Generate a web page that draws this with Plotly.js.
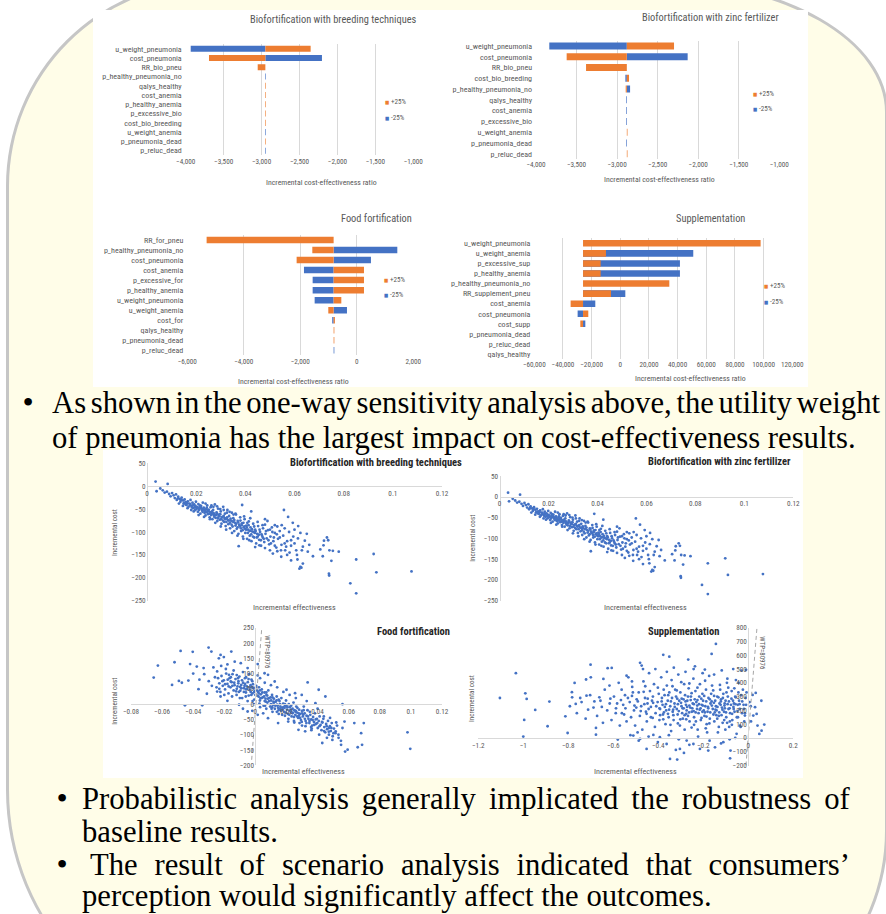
<!DOCTYPE html>
<html><head><meta charset="utf-8">
<script src="https://cdn.plot.ly/plotly-3.0.1.min.js"></script>
<style>
html,body{margin:0;padding:0;width:886px;height:914px;overflow:hidden;background:#fff;}
#frame{position:absolute;left:6px;top:-20px;width:882px;height:1059px;box-sizing:border-box;border:3px solid #c6c6c6;background:#fffde8;
border-top-left-radius:206px;border-top-right-radius:228px 132px;border-bottom-right-radius:208px;border-bottom-left-radius:249px;}
.panel{position:absolute;background:#fff;}
#chart{position:absolute;left:0;top:0;width:886px;height:914px;}
.tl{position:absolute;font-size:32px;line-height:30px;white-space:nowrap;transform-origin:0 0;color:#000;}
</style></head>
<body>
<div id="frame"></div>
<div class="panel" style="left:93px;top:10px;width:715px;height:377px;"></div>
<div class="panel" style="left:103px;top:450px;width:700px;height:328px;"></div>
<div id="chart"></div>
<script>
// ---------------- DATA ----------------
// Tornado: Biofortification with breeding techniques
const bfbCats = ["u_weight_pneumonia","cost_pneumonia","RR_bio_pneu","p_healthy_pneumonia_no","qalys_healthy","cost_anemia","p_healthy_anemia","p_excessive_bio","cost_bio_breeding","u_weight_anemia","p_pneumonia_dead","p_reluc_dead"];
const bfbBase = -2950;
const bfbPlus  = [-2353,-3693,-3051,-2950,-2942,-2942,-2942,-2942,-2942,-2950,-2942,-2950];
const bfbMinus = [-3934,-2204,-2950,-2942,-2950,-2950,-2950,-2950,-2950,-2942,-2950,-2942];
// Tornado: Biofortification with zinc fertilizer
const bfzCats = ["u_weight_pneumonia","cost_pneumonia","RR_bio_pneu","cost_bio_breeding","p_healthy_pneumonia_no","qalys_healthy","cost_anemia","p_excessive_bio","u_weight_anemia","p_pneumonia_dead","p_reluc_dead"];
const bfzBase = -2880;
const bfzPlus  = [-2298,-3622,-3383,-2853,-2894,-2880,-2880,-2880,-2872,-2880,-2872];
const bfzMinus = [-3836,-2130,-2880,-2898,-2840,-2888,-2888,-2888,-2880,-2888,-2880];
// Tornado: Food fortification
const ffCats = ["RR_for_pneu","p_healthy_pneumonia_no","cost_pneumonia","cost_anemia","p_excessive_for","p_healthy_anemia","u_weight_pneumonia","u_weight_anemia","cost_for","qalys_healthy","p_pneumonia_dead","p_reluc_dead"];
const ffBase = -820;
const ffPlus  = [-5316,-1575,-2130,254,254,254,-548,-1009,-775,-795,-795,-820];
const ffMinus = [-820,1434,501,-1870,-1563,-1563,-1492,-348,-870,-820,-820,-795];
// Tornado: Supplementation
const spCats = ["u_weight_pneumonia","u_weight_anemia","p_excessive_sup","p_healthy_anemia","p_healthy_pneumonia_no","RR_supplement_pneu","cost_anemia","cost_pneumonia","cost_supp","p_pneumonia_dead","p_reluc_dead","qalys_healthy"];
const spBase = -26000;
const spPlus  = [97900,-10000,-13700,-13700,34200,-6500,-34650,-22330,-27900,-26000,-26000,-26000];
const spMinus = [-26000,50900,41600,41600,-26000,3500,-17440,-29770,-24400,-26000,-26000,-26000];
const seriesNames = ["+25%","-25%"];

// PSA scatter: biofortification (breeding and zinc fertilizer clouds look identical)
const bioPoints = [
[0.0035,10],[0.0084,5],[0.0039,-11],[0.0054,-5],[0.0064,-9],[0.0072,-14],[0.0081,-12],[0.0090,-17],[0.0096,-22],[0.0102,-15],[0.0108,-20],[0.0113,-26],[0.0118,-18],[0.0121,-30],[0.0127,-23],[0.0133,-28],[0.0136,-34],[0.0141,-25],[0.0146,-31],[0.0149,-38],[0.0153,-29],[0.0158,-35],[0.0161,-41],[0.0166,-33],[0.0169,-45],[0.0172,-38],[0.0177,-30],[0.0181,-43],[0.0185,-36],[0.0188,-48],[0.0192,-40],[0.0196,-52],[0.0199,-34],[0.0203,-45],[0.0207,-56],[0.0209,-39],[0.0213,-49],[0.0217,-60],[0.0220,-43],[0.0224,-53],[0.0227,-36],[0.0231,-47],[0.0234,-58],[0.0238,-64],[0.0241,-50],[0.0245,-42],[0.0248,-61],[0.0252,-55],[0.0255,-68],[0.0259,-46],[0.0262,-58],[0.0266,-72],[0.0269,-52],[0.0272,-64],[0.0276,-40],[0.0279,-69],[0.0283,-57],[0.0286,-76],[0.0289,-49],[0.0293,-62],[0.0296,-73],[0.0300,-55],[0.0303,-82],[0.0307,-67],[0.0310,-45],[0.0314,-78],[0.0317,-60],[0.0320,-87],[0.0324,-70],[0.0327,-52],[0.0331,-83],[0.0334,-65],[0.0338,-92],[0.0341,-75],[0.0345,-58],[0.0348,-88],[0.0351,-70],[0.0355,-98],[0.0358,-80],[0.0362,-62],[0.0365,-93],[0.0369,-76],[0.0372,-104],[0.0376,-86],[0.0379,-68],[0.0383,-98],[0.0386,-81],[0.0390,-110],[0.0393,-90],[0.0397,-72],[0.0400,-102],[0.0404,-86],[0.0407,-115],[0.0411,-95],[0.0414,-77],[0.0418,-108],[0.0421,-90],[0.0425,-120],[0.0428,-99],[0.0432,-82],[0.0436,-112],[0.0440,-95],[0.0444,-125],[0.0448,-104],[0.0452,-87],[0.0456,-117],[0.0460,-100],[0.0464,-130],[0.0468,-108],[0.0472,-92],[0.0477,-122],[0.0482,-104],[0.0487,-114],[0.0492,-96],[0.0497,-127],[0.0502,-110],[0.0508,-90],[0.0514,-120],[0.0520,-102],[0.0526,-134],[0.0533,-115],[0.0540,-98],[0.0547,-128],[0.0554,-108],[0.0562,-140],[0.0570,-120],[0.0578,-100],[0.0586,-130],[0.0595,-110],
[0.0157,-40],[0.0174,-42],[0.0183,-46],[0.0194,-46],[0.0201,-50],[0.0211,-52],[0.0219,-47],[0.0226,-56],[0.0233,-52],[0.0240,-57],[0.0247,-53],[0.0254,-60],[0.0261,-63],[0.0268,-60],[0.0274,-67],[0.0281,-63],[0.0288,-70],[0.0295,-66],[0.0302,-72],[0.0309,-75],[0.0316,-70],[0.0323,-78],[0.0330,-74],[0.0337,-80],[0.0344,-84],[0.0352,-78],[0.0360,-86],[0.0368,-90],[0.0375,-84],[0.0382,-92],[0.0389,-96],[0.0396,-88],[0.0403,-95],[0.0410,-102],[0.0417,-98],[0.0424,-105],[0.0431,-110],[0.0439,-102],[0.0447,-112],[0.0455,-106],[0.0463,-118],[0.0471,-112],
[0.0190,-55],[0.0215,-42],[0.0243,-47],[0.0270,-45],[0.0298,-50],[0.0325,-58],[0.0352,-62],[0.0380,-75],[0.0408,-80],[0.0436,-88],[0.0470,-85],[0.0500,-95],[0.0520,-85],
[0.0125,-27],[0.0139,-30],[0.0151,-36],[0.0163,-37],[0.0176,-39],[0.0186,-42],[0.0197,-43],[0.0205,-47],[0.0214,-46],[0.0222,-50],[0.0229,-49],[0.0236,-54],[0.0244,-56],[0.0251,-51],[0.0258,-57],[0.0264,-55],[0.0271,-59],[0.0278,-62],[0.0285,-60],[0.0291,-65],[0.0298,-61],[0.0305,-68],[0.0312,-65],[0.0319,-72],[0.0326,-68],[0.0333,-75],[0.0340,-71],[0.0347,-77],[0.0355,-74],[0.0363,-82],[0.0371,-79],[0.0378,-88],[0.0385,-85],[0.0392,-80],[0.0399,-93],[0.0406,-90],[0.0413,-85],[0.0420,-97],[0.0427,-94],[0.0434,-100],[0.0442,-98],[0.0450,-110],[0.0458,-95],[0.0466,-105],[0.0475,-115],[0.0484,-98],[0.0494,-118],[0.0504,-125],[0.0516,-112],[0.0528,-105],[0.0210,-63],[0.0232,-67],[0.0256,-72],[0.0278,-80],[0.0300,-88],[0.0322,-95],[0.0346,-102],[0.0368,-108],[0.0392,-115],[0.0416,-118],[0.0180,-52],[0.0165,-48],[0.0146,-43],[0.0130,-38],[0.0238,-38],[0.0262,-42],[0.0285,-44],[0.0312,-52],[0.0336,-56],[0.0360,-60],[0.0395,-66],[0.0420,-70],[0.0450,-78],[0.0480,-84],[0.0510,-100],[0.0540,-112],[0.0560,-125],[0.0580,-145],[0.0600,-125],[0.0630,-140],[0.0660,-128],[0.0610,-150],[0.0570,-150],[0.0545,-140],[0.0520,-130],
[0.0424,-55],[0.0387,-41],[0.0480,-72],[0.0557,-52],[0.0574,-67],[0.0548,-85],[0.0560,-92],[0.0593,-80],[0.0615,-87],[0.0624,-102],[0.0642,-119],[0.0720,-119],[0.0732,-112],[0.0737,-118],[0.0718,-129],[0.0705,-138],[0.0742,-140],[0.0756,-141],[0.0780,-143],[0.0715,-153],[0.0750,-163],[0.0851,-160],[0.0922,-148],[0.0740,-191],[0.0741,-195],[0.0933,-188],[0.1076,-186],[0.0827,-212],[0.0851,-234],[0.0620,-180],[0.0624,-176],[0.0586,-162],[0.0634,-169],[0.0654,-143],[0.0675,-153],[0.0607,-140],[0.0566,-132],[0.0546,-154],[0.0512,-147],[0.0480,-135],[0.0457,-129],[0.0373,-131],[0.0586,-118],[0.0614,-114],[0.0634,-132],[0.0628,-178],[0.0612,-160],[0.0530,-142],[0.0500,-140],[0.0440,-133],[0.0490,-76],[0.0530,-88],[0.0600,-95],[0.0650,-104]
];
// PSA scatter: food fortification
const foodPoints = [
[-0.0250,55],[-0.0240,85],[-0.0232,68],[-0.0225,40],[-0.0218,92],[-0.0210,60],[-0.0203,78],[-0.0195,48],[-0.0188,100],[-0.0180,66],[-0.0173,35],[-0.0166,85],[-0.0160,55],[-0.0153,72],[-0.0147,98],[-0.0140,45],[-0.0134,62],[-0.0128,82],[-0.0121,30],[-0.0115,58],[-0.0109,75],[-0.0103,90],[-0.0097,44],[-0.0091,63],[-0.0085,20],[-0.0079,70],[-0.0073,52],[-0.0067,85],[-0.0061,38],[-0.0055,58],[-0.0049,72],[-0.0043,28],[-0.0037,46],[-0.0031,62],[-0.0025,80],[-0.0019,35],[-0.0013,52],[-0.0007,15],[-0.0001,44],[0.0005,60],[0.0011,28],[0.0017,40],[0.0023,55],[0.0029,12],[0.0035,32],[0.0041,48],[0.0047,22],[0.0053,-5],[0.0059,38],[0.0065,18],[0.0071,30],[0.0077,5],[0.0083,45],[0.0089,20],[0.0095,-8],[0.0101,12],[0.0107,30],[0.0113,-2],[0.0119,18],[0.0125,-15],[0.0131,8],[0.0137,25],[0.0143,-5],[0.0149,-20],[0.0155,10],[0.0161,-8],[0.0167,20],[0.0173,-12],[0.0179,2],[0.0185,-25],[0.0191,-5],[0.0197,12],[0.0203,-18],[0.0209,-32],[0.0215,0],[0.0221,-10],[0.0227,-25],[0.0233,-40],[0.0239,-15],[0.0245,5],[0.0251,-20],[0.0257,-35],[0.0263,-8],[0.0269,-28],[0.0275,-45],[0.0281,-18],[0.0287,-32],[0.0293,-52],[0.0299,-22],[0.0305,-40],[0.0311,-8],[0.0317,-30],[0.0323,-55],[0.0329,-38],[0.0335,-20],[0.0341,-48],[0.0347,-62],[0.0353,-35],[0.0359,-50],[0.0365,-70],[0.0371,-42],[0.0377,-58],[0.0383,-30],[0.0389,-65],[0.0395,-48],[0.0401,-78],[0.0407,-55],[0.0413,-40],[0.0419,-68],[0.0425,-85],[0.0431,-60],[0.0437,-48],[0.0443,-75],[0.0449,-92],[0.0455,-65],[0.0461,-82],[0.0467,-55],[0.0473,-100],[0.0479,-72],[0.0485,-88],[0.0491,-62],[0.0497,-105],[0.0505,-80],[0.0515,-95],[0.0525,-70],[0.0535,-110],
[-0.0120,50],[-0.0090,52],[-0.0060,48],[-0.0030,40],[0.0000,30],[0.0020,25],[0.0040,20],[0.0060,10],[0.0080,18],[0.0100,0],[0.0120,5],[0.0140,-2],[0.0160,-15],[0.0180,-10],[0.0200,-5],[0.0220,-22],[0.0240,-28],[0.0260,-22],[0.0280,-38],[0.0300,-30],[-0.0110,68],[-0.0070,60],[-0.0020,55],[0.0030,45],[0.0070,38],[0.0110,22],[0.0150,15],[0.0190,0],[0.0230,-5],[0.0270,-12],[0.0310,-20],[0.0350,-25],[0.0190,-38],[0.0150,-32],[0.0110,-25],[0.0070,-15],[0.0030,-10],[-0.0010,0],[-0.0050,10],[-0.0100,20],[-0.0150,25],[-0.0200,30],
[-0.0195,65],[-0.0172,58],[-0.0158,88],[-0.0136,70],[-0.0124,42],[-0.0112,85],[-0.0098,56],[-0.0086,78],[-0.0074,40],[-0.0066,66],[-0.0052,50],[-0.0044,82],[-0.0034,55],[-0.0026,30],[-0.0016,65],[-0.0008,40],[0.0002,55],[0.0012,45],[0.0022,35],[0.0032,20],[0.0044,38],[0.0056,25],[0.0068,8],[0.0076,28],[0.0088,10],[0.0098,22],[0.0108,-10],[0.0116,8],[0.0128,-5],[0.0136,12],[0.0146,-12],[0.0158,0],[0.0166,-22],[0.0176,-18],[0.0188,-12],[0.0196,-28],[0.0206,-10],[0.0218,-35],[0.0228,-18],[0.0238,-30],[0.0248,-42],[0.0258,-25],[0.0268,-40],[0.0278,-30],[0.0288,-45],[0.0298,-58],[0.0308,-35],[0.0318,-48],[0.0328,-62],[0.0338,-40],[0.0348,-55],[0.0358,-75],[0.0368,-52],[0.0378,-68],[0.0388,-50],[0.0398,-62],[0.0412,-72],[0.0428,-58],[0.0442,-88],[0.0458,-72],[0.0472,-90],[0.0488,-78],[0.0502,-95],[-0.0232,50],[-0.0212,75],[-0.0178,80],[-0.0148,60],[-0.0106,40],[-0.0062,25],[-0.0018,10],[0.0026,2],[0.0062,-5],[0.0104,-15],[0.0138,-25],[0.0172,-35],[0.0212,-48],[0.0248,-55],[0.0284,-62],[0.0322,-72],[0.0362,-80],
[-0.0654,87],[-0.0627,126],[-0.0520,137],[-0.0536,63],[-0.0481,174],[-0.0492,76],[-0.0473,70],[-0.0431,77],[-0.0403,171],[-0.0420,131],[-0.0377,123],[-0.0366,49],[-0.0333,118],[-0.0329,98],[-0.0312,34],[-0.0301,185],[-0.0283,172],[-0.0342,-4],[-0.0453,-4],[-0.0246,107],[-0.0235,150],[-0.0224,161],[-0.0203,154],[-0.0155,172],[-0.0133,139],[-0.0170,96],[-0.0159,74],[-0.0094,134],[-0.0050,118],[0.0015,131],[0.0336,71],[0.0407,47],[0.0450,25],[0.0560,0],[0.0573,-57],[0.0636,-62],[0.0697,-62],[0.0516,-89],[0.0680,-95],[0.0978,-92],[0.0996,-146],[0.0577,-155],[0.0593,-149],[0.0658,-141],[0.0686,-133],[0.0551,-133],[0.0495,-117],[0.0430,-127],[0.0534,-100],[0.0560,-78],[0.0473,-78],[0.0320,-89],[0.0277,-84],[0.0211,-57],[0.0146,-62],[0.0081,-46],[0.0015,-35],[-0.0050,-24],[-0.0105,-2],[-0.0180,11],[-0.0224,25],[-0.0246,41],[0.0386,3],[0.0298,30],[0.0255,36],[0.0200,47],[0.0124,74],[0.0081,96],[0.0059,101],[0.0015,94],
[-0.0280,60],[-0.0260,88],[-0.0300,75],[-0.0270,120],[-0.0220,125],[-0.0190,115],[-0.0140,110],[-0.0120,95],[-0.0080,105],[-0.0060,88],[-0.0040,98],[-0.0020,75],[0.0030,85],[0.0060,70],[0.0100,62],[0.0140,55],[0.0180,40],[0.0220,30],[0.0260,20],[0.0330,10],[0.0400,-15],[0.0440,-40],[0.0480,-45],[0.0520,-60],[0.0550,-120],[0.0460,-110],[0.0410,-100],[0.0360,-85],[0.0300,-70],[0.0250,-60],[-0.0360,80],[-0.0400,100],[-0.0180,130],[-0.0080,-15],[-0.0020,-22],[0.0050,-30]
];
// PSA scatter: supplementation
const suppPoints = [
[-1.104,290],[-1.033,470],[-0.991,324],[-0.985,283],[-0.996,131],[-1.000,10],[-0.947,203],[-0.884,264],[-0.892,85],[-0.813,157],[-0.803,36],[-0.772,399],[-0.784,332],[-0.767,247],[-0.783,295],[-0.721,424],[-0.701,532],[-0.700,440],[-0.719,307],[-0.677,24],[-0.677,73],[-0.662,295],[-0.644,428],[-0.625,506],[-0.607,508],[-0.580,-12],[-0.541,452],[-0.481,545],[-0.474,525],[-0.378,603],[-0.351,590],[-0.348,-152],[-0.316,-157],[-0.322,-87],[-0.286,-109],[-0.267,569],[-0.237,520],[-0.193,496],[-0.163,610],[-0.144,682],[-0.081,-148],[-0.079,-92],[-0.067,500],[-0.030,489],[-0.010,494],[0.030,223],[0.037,174],[0.071,97],[0.059,53],[0.049,29],[0.033,327],[0.019,312],[0.022,162],[-0.010,240],[-0.015,162],[-0.037,89],[-0.058,0],[-0.111,-31],[-0.148,-68],[-0.178,-92],[-0.215,-80],[-0.244,-44],[-0.274,-19],[-0.304,-80],[-0.363,-44],[-0.393,5],[-0.422,22],[-0.452,-80],[-0.481,-7],[-0.511,17],
[-0.583,250],[-0.562,180],[-0.548,310],[-0.541,120],[-0.527,260],[-0.516,370],[-0.508,200],[-0.503,90],[-0.496,280],[-0.487,330],[-0.482,160],[-0.476,230],[-0.471,60],[-0.466,410],[-0.459,290],[-0.455,190],[-0.448,250],[-0.451,120],[-0.437,340],[-0.443,210],[-0.428,270],[-0.433,150],[-0.419,390],[-0.424,300],[-0.415,80],[-0.409,230],[-0.412,180],[-0.398,320],[-0.403,260],[-0.395,130],[-0.387,440],[-0.392,210],[-0.384,290],[-0.379,170],[-0.376,350],[-0.381,240],[-0.368,100],[-0.372,310],[-0.365,200],[-0.358,270],[-0.362,380],[-0.354,150],[-0.347,230],[-0.351,330],[-0.343,50],[-0.339,290],[-0.336,190],[-0.341,420],[-0.328,250],[-0.332,130],[-0.325,350],[-0.318,210],[-0.321,300],[-0.314,170],[-0.307,270],[-0.311,460],[-0.304,90],[-0.297,230],[-0.302,330],[-0.294,180],[-0.288,280],[-0.291,140],[-0.285,390],[-0.277,240],[-0.281,310],[-0.274,200],[-0.268,160],[-0.271,270],[-0.265,360],[-0.258,220],[-0.261,120],[-0.255,300],[-0.247,250],[-0.251,190],[-0.244,430],[-0.238,280],[-0.241,150],[-0.235,340],[-0.228,210],[-0.231,260],[-0.225,60],[-0.218,300],[-0.221,180],[-0.215,390],[-0.207,240],[-0.211,130],[-0.204,320],[-0.198,200],[-0.201,270],[-0.195,160],[-0.188,350],[-0.191,230],[-0.185,100],[-0.177,290],[-0.181,190],[-0.174,450],[-0.168,250],[-0.171,140],[-0.165,320],[-0.158,210],[-0.161,380],[-0.155,170],[-0.147,270],[-0.151,120],[-0.144,230],[-0.138,300],[-0.141,200],[-0.135,40],[-0.128,250],[-0.131,160],[-0.125,350],[-0.117,220],[-0.121,280],[-0.114,110],[-0.108,190],[-0.111,320],[-0.105,250],[-0.098,150],[-0.101,270],[-0.095,400],[-0.088,210],[-0.091,300],[-0.085,80],[-0.077,240],[-0.081,180],[-0.074,340],[-0.068,270],[-0.071,130],[-0.065,210],[-0.058,300],[-0.061,190],[-0.055,420],[-0.047,240],[-0.051,150],[-0.044,330],[-0.038,210],[-0.041,270],[-0.028,180],[-0.032,310],[-0.021,240],[-0.018,120],
[-0.392,165],[-0.371,225],[-0.356,310],[-0.334,205],[-0.313,245],[-0.296,285],[-0.276,175],[-0.262,235],[-0.243,195],[-0.226,275],[-0.212,215],[-0.196,305],[-0.179,225],[-0.163,265],[-0.149,185],[-0.133,295],[-0.119,165],[-0.104,215],[-0.086,265],[-0.072,175],[-0.357,175],[-0.318,345],[-0.287,215],[-0.252,325],[-0.219,245],[-0.186,155],[-0.152,305],[-0.123,240],[-0.097,330],[-0.064,250],[-0.302,135],[-0.268,300],[-0.233,120],[-0.204,190],[-0.171,280],[-0.138,140],[-0.113,290],[-0.082,120],[-0.423,255],[-0.452,175],[-0.465,335],[-0.498,220],[-0.521,150],[-0.535,290],
[-0.395,215],[-0.385,265],[-0.375,185],[-0.366,245],[-0.352,205],[-0.344,265],[-0.333,165],[-0.327,225],[-0.316,285],[-0.309,195],[-0.299,255],[-0.292,215],[-0.283,165],[-0.279,265],[-0.272,225],[-0.263,185],[-0.256,275],[-0.249,215],[-0.242,245],[-0.234,185],[-0.227,235],[-0.216,205],[-0.209,285],[-0.202,235],[-0.193,185],[-0.187,265],[-0.178,215],[-0.169,185],[-0.162,235],[-0.153,255],[-0.146,205],[-0.137,225],[-0.129,185],[-0.122,265],[-0.115,205],[-0.106,235],[-0.099,185],[-0.092,245],[-0.083,215],[-0.075,285],[-0.066,225],[-0.057,245],[-0.048,195],[-0.039,245],[-0.027,265],[-0.313,105],[-0.276,135],[-0.241,95],[-0.208,145],[-0.173,105],[-0.142,165],[-0.107,130],[-0.073,95],[-0.337,375],[-0.298,405],[-0.262,395],[-0.226,365],[-0.192,415],[-0.156,345],[-0.126,385],[-0.089,365],[-0.056,295],[-0.433,225],[-0.447,285],[-0.462,245],[-0.478,195],[-0.491,265],[-0.506,235],[-0.517,305],[-0.546,215],[-0.566,275],[-0.588,215],[-0.613,285],[-0.651,225],[-0.684,265],[-0.712,205],[-0.747,290],[-0.425,145],[-0.378,135],[-0.346,95],[-0.252,75],[-0.189,70],[-0.131,80],[-0.094,110],[-0.046,150],[-0.019,210],[-0.008,330],[0.011,230],[-0.402,365],[-0.458,375],[-0.517,410],[-0.563,350],[-0.617,380],
[-0.793,230],[-0.762,180],[-0.741,260],[-0.723,140],[-0.703,310],[-0.688,220],[-0.672,160],[-0.657,270],[-0.646,110],[-0.638,350],[-0.627,200],[-0.616,250],[-0.608,130],[-0.597,300],[-0.589,180],[-0.576,400],[-0.571,90],[-0.556,240],[-0.552,170],[-0.533,440],[-0.524,20],[-0.513,330],[-0.492,40],[-0.468,500],[-0.441,470],[-0.413,500],[-0.362,480],[-0.331,510],[-0.279,480],[-0.243,500],[-0.203,470],[-0.152,460],[-0.118,490],[-0.093,430],[-0.062,360],[-0.043,400],[-0.024,350],[-0.012,290],[-0.034,80],[-0.052,30],[-0.083,-10],[-0.121,-40],[-0.172,-20],[-0.223,10],[-0.262,-50],[-0.309,-10],[-0.353,20],[-0.402,-30],[-0.443,10],[-0.487,-20],[-0.283,60],[-0.183,40],[-0.102,60],[-0.015,180],[0.006,260],[0.012,120],[0.041,90],[0.058,270]
];
// WTP threshold lines
const wtpLabel = "WTP=80976";
const foodWtpEff = [-0.0024, 0.0041], foodWtpCost = [-182, 250];
const suppWtpEff = [-0.0105, 0.0385], suppWtpCost = [-200, 800];

// ---------------- FONTS ----------------
const SANS = '"Roboto Condensed", "DejaVu Sans Condensed", sans-serif';
const SERIF = '"Liberation Serif", "Times New Roman", serif';
const meas = document.createElement('span');
meas.style.cssText = 'position:absolute;left:0;top:0;visibility:hidden;white-space:nowrap;font-size:100px;';
document.body.appendChild(meas);
function fit(str, target, bold) {
  meas.style.fontFamily = SANS; meas.style.fontWeight = bold ? 'bold' : 'normal'; meas.textContent = str;
  return Math.round(100 * target / meas.getBoundingClientRect().width * 10) / 10;
}
const FS = {
  cat: fit('p_healthy_pneumonia_no', 79),
  tick: fit('-3,500', 17.5),
  ttitle: fit('Biofortification with breeding techniques', 166),
  atitle: fit('Incremental cost-effectiveness ratio', 110),
  leg: fit('+25%', 15),
  stitle: fit('Biofortification with breeding techniques', 172, true),
  eff: fit('Incremental effectiveness', 83),
  cost: fit('Incremental cost', 47),
  wtp: fit('WTP=80976', 33),
  stick: fit('-100', 12.5)
};
meas.remove();

// ---------------- LAYOUT HELPERS ----------------
const W = 886, H = 914;
const px = v => v / W, py = v => 1 - v / H;
const BLUE = '#4472C4', ORANGE = '#ED7D31', GREY = '#595959';
const axId = n => n === 1 ? '' : String(n);

const traces = [];
const layout = {
  width: W, height: H, margin: {l: 0, r: 0, t: 0, b: 0},
  paper_bgcolor: 'rgba(0,0,0,0)', plot_bgcolor: 'rgba(0,0,0,0)',
  showlegend: false, barmode: 'overlay', hovermode: false,
  font: {family: SANS, color: GREY, size: 8},
  annotations: []
};
function ann(text, x, y, o) {
  return Object.assign({text: text, x: px(x), y: py(y), xref: 'paper', yref: 'paper', showarrow: false,
    xanchor: 'center', yanchor: 'middle', font: {family: SANS, size: FS.atitle, color: GREY}}, o || {});
}

function tornado(n, cats, base, plus, minus, xd, yd, range, dtick, title, titlePos, xtitlePos, legPos) {
  const xa = 'x' + axId(n), ya = 'y' + axId(n);
  traces.push({type: 'bar', orientation: 'h', y: cats, x: minus.map(v => v - base), base: base,
    xaxis: xa, yaxis: ya, name: seriesNames[1], width: 0.65, marker: {color: BLUE, line: {width: 0}}});
  traces.push({type: 'bar', orientation: 'h', y: cats, x: plus.map(v => v - base), base: base,
    xaxis: xa, yaxis: ya, name: seriesNames[0], width: 0.65, marker: {color: ORANGE, line: {width: 0}}});
  layout['xaxis' + axId(n)] = {domain: [px(xd[0]), px(xd[1])], range: range, dtick: dtick, tickformat: ',',
    tickangle: 0, showgrid: true, gridcolor: '#d9d9d9', gridwidth: 1, zeroline: false, showline: false, ticks: '',
    tickfont: {family: SANS, size: FS.tick, color: GREY}, anchor: ya, fixedrange: true};
  layout['yaxis' + axId(n)] = {domain: [py(yd[1]), py(yd[0])], type: 'category', categoryorder: 'array',
    categoryarray: cats, tickmode: 'array', tickvals: cats, autorange: 'reversed', showgrid: false,
    zeroline: false, showline: false, ticks: '', ticklabelstandoff: 3,
    tickfont: {family: SANS, size: FS.cat, color: GREY}, anchor: xa, fixedrange: true};
  layout.annotations.push(ann(title, titlePos[0], titlePos[1], {font: {family: SANS, size: FS.ttitle, color: GREY}}));
  layout.annotations.push(ann('Incremental cost-effectiveness ratio', xtitlePos[0], xtitlePos[1]));
  const legFont = {family: SANS, size: FS.leg, color: GREY};
  layout.annotations.push(ann('<span style="color:' + ORANGE + ';font-size:5px">■</span> ' + seriesNames[0], legPos[0], legPos[1], {xanchor: 'left', font: legFont}));
  layout.annotations.push(ann('<span style="color:' + BLUE + ';font-size:5px">■</span> ' + seriesNames[1], legPos[0], legPos[1] + 15, {xanchor: 'left', font: legFont}));
}

tornado(1, bfbCats, bfbBase, bfbPlus, bfbMinus, [185.7, 413.3], [44.1, 155.3], [-4000, -1000], 500,
  'Biofortification with breeding techniques', [333, 19], [321.7, 182.7], [382.5, 102]);
tornado(2, bfzCats, bfzBase, bfzPlus, bfzMinus, [536, 779.3], [40.6, 159.1], [-4000, -1000], 500,
  'Biofortification with zinc fertilizer', [710, 17.3], [659.3, 179], [751, 93.7]);
tornado(3, ffCats, ffBase, ffPlus, ffMinus, [187.3, 413.3], [235, 355.3], [-6000, 2000], 2000,
  'Food fortification', [376, 219], [293.3, 381.7], [382, 279]);
tornado(4, spCats, spBase, spPlus, spMinus, [534.3, 792.3], [238.3, 359], [-60000, 120000], 20000,
  'Supplementation', [710, 219], [690, 379], [762, 286]);

function scatterPlot(n, pts, xd, yd, xr, yr, dx, dy, title, titleLeft, titleY, ytPos, xtPos, wtp) {
  const xa = 'x' + axId(n), ya = 'y' + axId(n);
  traces.push({type: 'scatter', mode: 'markers', x: pts.map(p => p[0]), y: pts.map(p => p[1]),
    xaxis: xa, yaxis: ya, marker: {color: BLUE, size: 2.8, line: {width: 0}}, cliponaxis: false});
  const y0 = yd[0] + (yr[1] - 0) / (yr[1] - yr[0]) * (yd[1] - yd[0]);
  const x0 = xd[0] + (0 - xr[0]) / (xr[1] - xr[0]) * (xd[1] - xd[0]);
  const tf = {family: SANS, size: FS.stick, color: GREY};
  layout['xaxis' + axId(n)] = {domain: [px(xd[0]), px(xd[1])], range: xr, dtick: dx, tickangle: 0, showgrid: false,
    zeroline: false, showline: true, linecolor: '#d9d9d9', linewidth: 1, ticks: '',
    tickfont: tf, anchor: 'free', position: py(y0), fixedrange: true};
  layout['yaxis' + axId(n)] = {domain: [py(yd[1]), py(yd[0])], range: yr, dtick: dy, showgrid: false,
    zeroline: false, showline: true, linecolor: '#d9d9d9', linewidth: 1, ticks: '',
    tickfont: tf, anchor: 'free', position: px(x0), fixedrange: true};
  if (wtp) {
    traces.push({type: 'scatter', mode: 'lines', x: wtp.eff, y: wtp.cost, xaxis: xa, yaxis: ya,
      line: {color: '#a6a6a6', width: 1, dash: '4px,3px'}});
    layout.annotations.push(ann(wtpLabel, wtp.lab[0], wtp.lab[1], {textangle: 90, font: {family: SANS, size: FS.wtp, color: GREY}}));
  }
  layout.annotations.push(ann(title, titleLeft, titleY, {xanchor: 'left', font: {family: SANS, size: FS.stitle, color: '#262626', weight: 'bold'}}));
  layout.annotations.push(ann('Incremental cost', ytPos[0], ytPos[1], {textangle: -90, font: {family: SANS, size: FS.cost, color: GREY}}));
  layout.annotations.push(ann('Incremental effectiveness', xtPos[0], xtPos[1], {font: {family: SANS, size: FS.eff, color: GREY}}));
}

scatterPlot(5, bioPoints, [147, 442], [463.3, 600.7], [0, 0.12], [-250, 50], 0.02, 50,
  'Biofortification with breeding techniques', 287.5, 462.7, [114, 533], [294, 607.3]);
scatterPlot(6, bioPoints, [499.5, 793.3], [476, 600.7], [0, 0.12], [-250, 50], 0.02, 50,
  'Biofortification with zinc fertilizer', 646, 461.7, [471.7, 538], [645.7, 607.3]);
scatterPlot(7, foodPoints, [131, 442], [627.7, 765.3], [-0.08, 0.12], [-200, 250], 0.02, 50,
  'Food fortification', 375, 631.7, [115, 701.7], [303.3, 770.7],
  {eff: foodWtpEff, cost: foodWtpCost, lab: [266.7, 652]});
scatterPlot(8, suppPoints, [478.3, 793.3], [627.7, 765.5], [-1.2, 0.2], [-200, 800], 0.2, 100,
  'Supplementation', 646, 631.7, [471.7, 698.3], [635.7, 770.7],
  {eff: suppWtpEff, cost: suppWtpCost, lab: [761.7, 653]});

Plotly.newPlot('chart', traces, layout, {staticPlot: true, displayModeBar: false});

// ---------------- BULLET TEXT ----------------
const bulletText = [
  {t: "As shown in the one-way sensitivity analysis above, the utility weight", x: 52, b: 413, end: 880},
  {t: "of pneumonia has the largest impact on cost-effectiveness results.", x: 52, b: 448, ref: 856},
  {t: "Probabilistic analysis generally implicated the robustness of", x: 82, b: 809, end: 850},
  {t: "baseline results.", x: 82, b: 842},
  {t: "The result of scenario analysis indicated that consumers\u2019", x: 90, b: 875, end: 850},
  {t: "perception would significantly affect the outcomes.", x: 82, b: 906}
];
const bullets = [{x: 28, b: 413}, {x: 62, b: 809}, {x: 62, b: 875}];
(function () {
  const base = 25.8;
  const els = bulletText.map(l => {
    const d = document.createElement('div'); d.className = 'tl'; d.style.fontFamily = SERIF; d.textContent = l.t;
    document.body.appendChild(d); return d;
  });
  let s = 0.88;
  bulletText.forEach((l, i) => { if (l.ref) s = (l.ref - l.x) / els[i].offsetWidth; });
  bulletText.forEach((l, i) => {
    const d = els[i];
    d.style.left = l.x + 'px'; d.style.top = (l.b - base) + 'px';
    d.style.transform = 'scaleX(' + s + ')';
    if (l.end) {
      const n = (l.t.match(/ /g) || []).length;
      const ws = ((l.end - l.x) / s - d.offsetWidth) / n;
      d.style.wordSpacing = ws + 'px';
    }
  });
  bullets.forEach(bu => {
    const d = document.createElement('div'); d.className = 'tl'; d.style.fontFamily = SERIF; d.textContent = '\u2022';
    document.body.appendChild(d);
    d.style.left = (bu.x - d.offsetWidth / 2) + 'px'; d.style.top = (bu.b - base) + 'px';
  });
})();
</script>
</body></html>
